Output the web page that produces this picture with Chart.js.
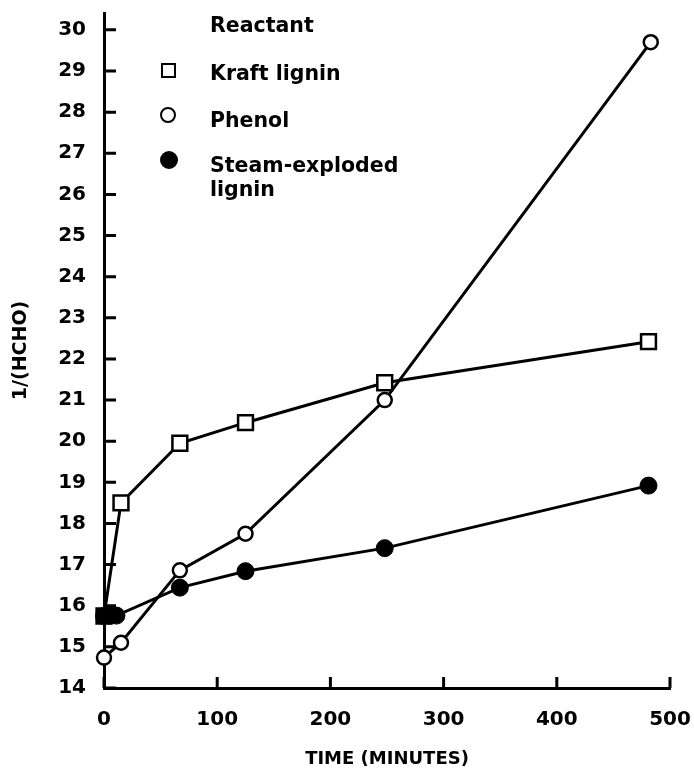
<!DOCTYPE html>
<html lang="en">
<head>
  <meta charset="UTF-8">
  <title>1/(HCHO) vs time</title>
  <script src="https://cdn.jsdelivr.net/npm/chart.js"></script>
  <style>
    body {
      margin: 0;
      padding: 0;
      background: #fff;
    }

    #wrap {
      position: relative;
      width: 694px;
      height: 771px;
    }

    #legend {
      position: absolute;
      left: 0;
      top: 0;
      font-family: 'DejaVu Sans', sans-serif;
      font-weight: bold;
      font-size: 20.5px;
      color: #000;
    }

    .lg-text {
      position: absolute;
      left: 210px;
      line-height: 24px;
      white-space: nowrap;
    }

    .lg-mark {
      position: absolute;
      box-sizing: border-box;
      border: 2.5px solid #000;
      background: #fff;
    }
  </style>
</head>
<body>
  <div id="wrap">
    <canvas id="chart" width="694" height="771"></canvas>

    <!-- Legend, placed inside the plot like the original -->
    <div id="legend">
      <div class="lg-text" style="top: 13px;">Reactant</div>
      <div class="lg-mark" style="left: 161px; top: 63px; width: 15px; height: 15px;"></div>
      <div class="lg-text" style="top: 61px;">Kraft lignin</div>
      <div class="lg-mark" style="left: 160px; top: 107px; width: 16px; height: 16px; border-radius: 50%;"></div>
      <div class="lg-text" style="top: 108px;">Phenol</div>
      <div class="lg-mark" style="left: 160px; top: 151px; width: 18px; height: 18px; border-radius: 50%; background: #000;"></div>
      <div class="lg-text" style="top: 153px;">Steam-exploded<br>lignin</div>
    </div>
  </div>

  <script>
    // Time (minutes) and 1/(HCHO)
    const kraftTime = [0, 15, 67, 125, 248, 481];
    const kraftVals = [15.75, 18.5, 19.95, 20.45, 21.42, 22.42];

    const phenolTime = [0, 15, 67, 125, 248, 483];
    const phenolVals = [14.74, 15.1, 16.86, 17.75, 21.0, 29.7];

    const steamTime = [0, 5, 11, 67, 125, 248, 481];
    const steamVals = [15.75, 15.76, 15.76, 16.44, 16.84, 17.4, 18.92];

    const xTicks = [0, 100, 200, 300, 400, 500];
    const yTicks = [14, 15, 16, 17, 18, 19, 20, 21, 22, 23, 24, 25, 26, 27, 28, 29, 30];

    const toPoints = (xs, ys) => xs.map((x, i) => ({ x: x, y: ys[i] }));

    const tickFont = { family: 'DejaVu Sans', weight: 'bold', size: 20 };

    // tick marks point into the plot, so draw them ourselves
    const inwardTicks = {
      id: 'inwardTicks',
      beforeDatasetsDraw(chart) {
        const { ctx, chartArea, scales } = chart;
        ctx.save();
        ctx.strokeStyle = '#000';
        ctx.lineWidth = 3;
        ctx.beginPath();
        yTicks.forEach(v => {
          const py = scales.y.getPixelForValue(v);
          ctx.moveTo(chartArea.left, py);
          ctx.lineTo(chartArea.left + 12, py);
        });
        xTicks.forEach(v => {
          const px = scales.x.getPixelForValue(v);
          ctx.moveTo(px, chartArea.bottom);
          ctx.lineTo(px, chartArea.bottom - 11);
        });
        ctx.stroke();
        ctx.restore();
      }
    };

    new Chart(document.getElementById('chart').getContext('2d'), {
      type: 'line',
      data: {
        datasets: [
          {
            label: 'Steam-exploded lignin',
            data: toPoints(steamTime, steamVals),
            borderColor: '#000',
            borderWidth: 3,
            pointStyle: 'circle',
            pointRadius: 8.5,
            pointBackgroundColor: '#000',
            pointBorderColor: '#000',
            pointBorderWidth: 1,
            tension: 0,
            clip: false,
            order: 0
          },
          {
            label: 'Phenol',
            data: toPoints(phenolTime, phenolVals),
            borderColor: '#000',
            borderWidth: 3,
            pointStyle: 'circle',
            pointRadius: 7,
            pointBackgroundColor: '#fff',
            pointBorderColor: '#000',
            pointBorderWidth: 2.5,
            tension: 0,
            clip: false,
            order: 1
          },
          {
            label: 'Kraft lignin',
            data: toPoints(kraftTime, kraftVals),
            borderColor: '#000',
            borderWidth: 3,
            pointStyle: 'rect',
            pointRadius: 10.5,
            pointBackgroundColor: '#fff',
            pointBorderColor: '#000',
            pointBorderWidth: 2.5,
            tension: 0,
            clip: false,
            order: 2
          }
        ]
      },
      options: {
        responsive: false,
        animation: false,
        devicePixelRatio: 1,
        layout: { padding: { top: 10, right: 24, left: 0, bottom: 0 } },
        plugins: {
          legend: { display: false },
          tooltip: { enabled: false }
        },
        scales: {
          x: {
            type: 'linear',
            min: 0,
            max: 500,
            grid: { display: false, drawTicks: false },
            border: { display: true, color: '#000', width: 3 },
            afterBuildTicks: s => { s.ticks = xTicks.map(v => ({ value: v })); },
            afterFit: s => { s.height = 83; s.paddingLeft = 0; s.paddingRight = 0; },
            ticks: { color: '#000', font: tickFont, padding: 20, maxRotation: 0 },
            title: {
              display: true,
              text: 'TIME (MINUTES)',
              color: '#000',
              font: { family: 'DejaVu Sans', weight: 'bold', size: 18 },
              padding: { top: 0, bottom: 1 }
            }
          },
          y: {
            type: 'linear',
            min: 14,
            max: 30.41,
            grid: { display: false, drawTicks: false },
            border: { display: true, color: '#000', width: 3 },
            afterBuildTicks: s => { s.ticks = yTicks.map(v => ({ value: v })); },
            afterFit: s => { s.width = 104; s.paddingTop = 0; s.paddingBottom = 0; },
            ticks: { color: '#000', font: tickFont, padding: 18 },
            title: {
              display: true,
              text: '1/(HCHO)',
              color: '#000',
              font: { family: 'DejaVu Sans', weight: 'bold', size: 19 },
              padding: { top: 10, bottom: 0 }
            }
          }
        }
      },
      plugins: [inwardTicks]
    });
  </script>
</body>
</html>
